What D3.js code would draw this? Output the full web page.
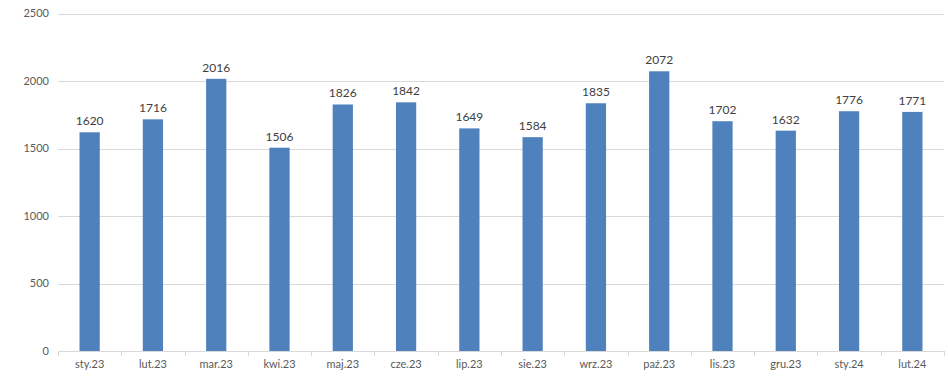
<!DOCTYPE html>
<html><head><meta charset="utf-8">
<script src="https://cdn.jsdelivr.net/npm/d3@7"></script>
<style>body{margin:0;background:#fff}svg{display:block}</style>
</head><body><svg id="c" width="948" height="390"></svg>
<script>
const categories = ["sty.23","lut.23","mar.23","kwi.23","maj.23","cze.23","lip.23","sie.23","wrz.23","paź.23","lis.23","gru.23","sty.24","lut.24"];
const values = [1620,1716,2016,1506,1826,1842,1649,1584,1835,2072,1702,1632,1776,1771];
const yTicks = [0,500,1000,1500,2000,2500];

(function(){
const svg = d3.select("#c");
const mL = 58, mR = 944, mT = 13.5, mB = 351;
const font = "Lato, 'Open Sans', sans-serif";
const x = d3.scaleBand().domain(categories).range([mL, mR]).paddingInner(0.68).paddingOuter(0.34);
const xb = d3.scaleBand().domain(categories).range([mL, mR]);
const y = d3.scaleLinear().domain([0,2500]).range([mB, mT]);

// gridlines
svg.append("g").selectAll("line").data(yTicks.filter(d=>d>0)).join("line")
  .attr("x1", mL).attr("x2", mR)
  .attr("y1", d=>Math.round(y(d))+0.5).attr("y2", d=>Math.round(y(d))+0.5)
  .attr("stroke", "#d9d9d9").attr("stroke-width", 1);

// y labels
svg.append("g").selectAll("text").data(yTicks).join("text")
  .attr("x", 49).attr("y", d=>y(d)).attr("dy","0.35em")
  .attr("text-anchor","end").attr("font-family",font).attr("font-size",11)
  .attr("fill","#595959").text(d=>d);

// bars
svg.append("g").selectAll("rect").data(values).join("rect")
  .attr("x", (d,i)=>x(categories[i])).attr("width", x.bandwidth())
  .attr("y", d=>y(d)).attr("height", d=>mB - y(d))
  .attr("fill","#4f81bd");

// data labels
svg.append("g").selectAll("text").data(values).join("text")
  .attr("x", (d,i)=>x(categories[i]) + x.bandwidth()/2).attr("y", d=>y(d)-7)
  .attr("text-anchor","middle").attr("font-family",font).attr("font-size",12)
  .attr("fill","#404040").text(d=>d);

// x axis
const xAxis = svg.append("g");
xAxis.append("line").attr("x1",mL).attr("x2",mR).attr("y1",mB+0.5).attr("y2",mB+0.5)
  .attr("stroke","#d9d9d9");
const ticksX = categories.map(c=>xb(c)).concat([mR]);
xAxis.selectAll("line.t").data(ticksX).join("line").attr("class","t")
  .attr("x1",d=>Math.round(d)+0.5).attr("x2",d=>Math.round(d)+0.5)
  .attr("y1",mB).attr("y2",mB+5).attr("stroke","#d9d9d9");
xAxis.selectAll("text").data(categories).join("text")
  .attr("x", d=>xb(d)+xb.bandwidth()/2).attr("y", 364).attr("dy","0.35em")
  .attr("text-anchor","middle").attr("font-family",font).attr("font-size",11)
  .attr("fill","#595959").text(d=>d);
})();
</script></body></html>
